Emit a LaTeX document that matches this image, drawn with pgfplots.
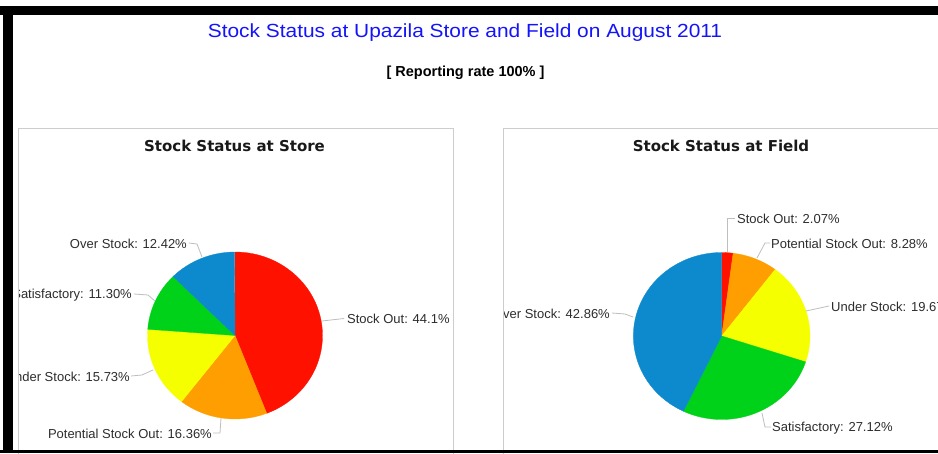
\documentclass[border=0pt]{standalone}
\usepackage{fontspec}
\setmainfont{Liberation Sans}
\newfontfamily\paneltitlefont{DejaVu Sans}
\usepackage{graphicx}
\usepackage{pgfplots}
\pgfplotsset{compat=1.18}
\usepackage{pgfplotstable}

\definecolor{pieRed}{RGB}{255,17,0}
\definecolor{pieOrange}{RGB}{255,158,0}
\definecolor{pieYellow}{RGB}{246,255,0}
\definecolor{pieGreen}{RGB}{0,210,25}
\definecolor{pieBlue}{RGB}{13,138,205}
\definecolor{titleblue}{RGB}{20,20,250}
\definecolor{panelgray}{RGB}{205,205,205}
\definecolor{linkgray}{RGB}{190,190,190}
\definecolor{labelgray}{RGB}{45,45,45}

\pgfplotstableread[col sep=comma]{
label,value,color
Stock Out,44.1,pieRed
Potential Stock Out,16.36,pieOrange
Under Stock,15.73,pieYellow
Satisfactory,11.30,pieGreen
Over Stock,12.42,pieBlue
}\storetable

\pgfplotstableread[col sep=comma]{
label,value,color
Stock Out,2.07,pieRed
Potential Stock Out,8.28,pieOrange
Under Stock,19.67,pieYellow
Satisfactory,27.12,pieGreen
Over Stock,42.86,pieBlue
}\fieldtable

% build the wedge commands of a pie from a table: #1 table, #2 cx, #3 cy, #4 rx, #5 ry, #6 macro
\newcommand\buildpie[6]{%
  \pgfplotstablegetrowsof{#1}%
  \pgfmathtruncatemacro\lastrow{\pgfplotsretval-1}%
  \gdef#6{}%
  \def\cum{0}%
  \pgfplotsforeachungrouped \r in {0,...,\lastrow}{%
    \pgfplotstablegetelem{\r}{value}\of{#1}\let\val\pgfplotsretval
    \pgfplotstablegetelem{\r}{color}\of{#1}\let\col\pgfplotsretval
    \pgfmathsetmacro\sa{90-3.6*\cum}%
    \pgfmathsetmacro\cum{\cum+\val}%
    \pgfmathsetmacro\ea{90-3.6*\cum}%
    \pgfmathsetmacro\px{#2+#4*cos(\sa)}%
    \pgfmathsetmacro\py{#3+#5*sin(\sa)}%
    \xdef#6{\unexpanded\expandafter{#6}\noexpand\filldraw[fill=\col,draw=\col,line width=0.3pt] (axis cs:#2,#3) -- (axis cs:\px,\py) arc[start angle=\sa, end angle=\ea, x radius=#4pt, y radius=#5pt] -- cycle;}%
  }%
}

\buildpie{\storetable}{235}{-335.5}{87.5}{83.5}{\storepie}
\buildpie{\fieldtable}{721.7}{-336}{88.3}{83.5}{\fieldpie}

\newcommand\lbl{\fontsize{13}{15}\selectfont\color{labelgray}}

\begin{document}
\begin{tikzpicture}[x=1pt,y=1pt]
\useasboundingbox (0,0) rectangle (938,-453);
\fill[white] (0,0) rectangle (938,-453);

% page titles
\node[text=titleblue, font=\fontsize{19}{22}\selectfont] at (465,-33) {\scalebox{1.1}[1]{Stock Status at Upazila Store and Field on August 2011}};
\node[font=\fontsize{14.5}{17}\selectfont\bfseries] at (465.5,-73) {[ Reporting rate 100\% ]};

% panel frames
\draw[panelgray, line width=1pt] (18.5,-128.5) rectangle (453.5,-470);
\draw[panelgray, line width=1pt] (503.5,-128.5) rectangle (960,-470);

\node[font=\paneltitlefont\bfseries\fontsize{15}{18}\selectfont, text=black!90] at (234.5,-146) {Stock Status at Store};
\node[font=\paneltitlefont\bfseries\fontsize{15}{18}\selectfont, text=black!90] at (721,-146) {Stock Status at Field};

% store panel
\begin{scope}
\clip (19,-129) rectangle (453,-450);
\begin{axis}[hide axis, scale only axis, x=1pt, y=1pt,
  xmin=18, xmax=453, ymin=-450, ymax=-128,
  at={(18pt,-450pt)}, anchor=south west, clip=false]
\storepie
\draw[linkgray, line width=0.8pt] (axis cs:322,-321) -- (axis cs:344,-318.5);
\draw[linkgray, line width=0.8pt] (axis cs:189,-243) -- (axis cs:197,-244) -- (axis cs:202,-257);
\draw[linkgray, line width=0.8pt] (axis cs:134,-294) -- (axis cs:148,-295) -- (axis cs:155,-301);
\draw[linkgray, line width=0.8pt] (axis cs:131,-376) -- (axis cs:142,-375) -- (axis cs:153,-370);
\draw[linkgray, line width=0.8pt] (axis cs:213,-433) -- (axis cs:220,-433) -- (axis cs:221,-418);
\node[anchor=base west, inner sep=0pt, font=\lbl] at (axis cs:347,-323) {Stock Out: 44.1\%};
\node[anchor=base east, inner sep=0pt, font=\lbl] at (axis cs:187,-248) {Over Stock: 12.42\%};
\node[anchor=base east, inner sep=0pt, font=\lbl] at (axis cs:132,-298.5) {Satisfactory: 11.30\%};
\node[anchor=base east, inner sep=0pt, font=\lbl] at (axis cs:130,-381) {Under Stock: 15.73\%};
\node[anchor=base east, inner sep=0pt, font=\lbl] at (axis cs:212,-438) {Potential Stock Out: 16.36\%};
\end{axis}
\end{scope}

% field panel
\begin{scope}
\clip (504,-129) rectangle (938,-450);
\begin{axis}[hide axis, scale only axis, x=1pt, y=1pt,
  xmin=503, xmax=938, ymin=-450, ymax=-128,
  at={(503pt,-450pt)}, anchor=south west, clip=false]
\fieldpie
\draw[linkgray, line width=0.8pt] (axis cs:735,-218) -- (axis cs:727,-218) -- (axis cs:727,-252);
\draw[linkgray, line width=0.8pt] (axis cs:770,-243) -- (axis cs:765,-243) -- (axis cs:757,-258);
\draw[linkgray, line width=0.8pt] (axis cs:806,-311) -- (axis cs:829,-306);
\draw[linkgray, line width=0.8pt] (axis cs:762,-413) -- (axis cs:765,-427) -- (axis cs:771,-427);
\draw[linkgray, line width=0.8pt] (axis cs:612,-313) -- (axis cs:625,-314) -- (axis cs:633,-317);
\node[anchor=base west, inner sep=0pt, font=\lbl] at (axis cs:737,-223) {Stock Out: 2.07\%};
\node[anchor=base west, inner sep=0pt, font=\lbl] at (axis cs:771,-248) {Potential Stock Out: 8.28\%};
\node[anchor=base west, inner sep=0pt, font=\lbl] at (axis cs:831,-311.5) {Under Stock: 19.67\%};
\node[anchor=base west, inner sep=0pt, font=\lbl] at (axis cs:772,-431.5) {Satisfactory: 27.12\%};
\node[anchor=base east, inner sep=0pt, font=\lbl] at (axis cs:610,-318) {Over Stock: 42.86\%};
\end{axis}
\end{scope}

% black frame
\fill[black] (0,-6) rectangle (938,-15);
\fill[black] (3,-6) rectangle (13,-453);
\fill[black] (0,-450) rectangle (938,-453);
\end{tikzpicture}
\end{document}
